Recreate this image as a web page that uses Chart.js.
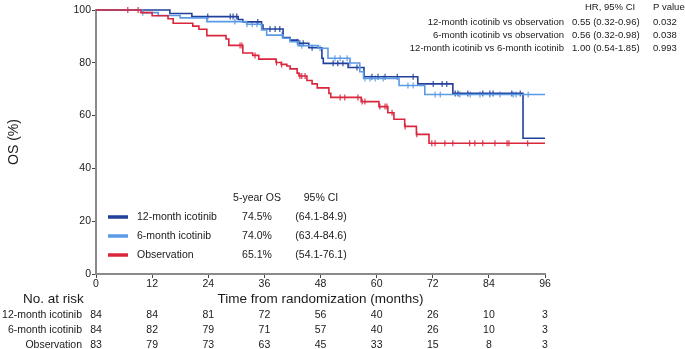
<!DOCTYPE html>
<html>
<head>
<meta charset="utf-8">
<script src="https://cdn.jsdelivr.net/npm/chart.js@4.4.1/dist/chart.umd.min.js"></script>
<style>
  html, body { margin: 0; padding: 0; background: #fff; }
  #wrap { width: 685px; height: 349px; }
</style>
</head>
<body>
<div id="wrap"><canvas id="os-chart" width="685" height="349"></canvas></div>
<script>
(function() {
    'use strict';

    // Kaplan-Meier steps (months, OS %)
    const obsTimes = [0, 9.6, 12.0, 15.4, 16.5, 20.7, 22.0, 23.7, 27.8, 28.4, 31.4, 33.5, 34.8, 38.5, 39.6, 40.8, 41.5, 43.0, 43.4, 45.1, 46.2, 47.3, 49.8, 50.2, 56.7, 60.5, 62.4, 63.7, 66.0, 68.5, 71.2, 96];
    const obsSurv = [100, 99.0, 97.8, 96.7, 95.0, 93.9, 92.7, 90.3, 89.0, 86.6, 83.7, 82.8, 81.4, 80.1, 79.4, 78.8, 77.7, 76.1, 75.0, 73.3, 72.0, 70.5, 68.4, 66.9, 65.3, 63.4, 61.1, 58.6, 55.9, 52.9, 49.5, 49.5];

    const m12Times = [0, 15.8, 20.5, 30.4, 31.4, 35.4, 35.7, 40.0, 41.5, 43.2, 45.5, 48.3, 48.6, 53.9, 57.3, 68.8, 76.3, 91.3, 96];
    const m12Surv = [100, 98.7, 97.5, 96.4, 95.5, 94.3, 92.8, 89.6, 88.6, 87.4, 85.7, 81.7, 79.8, 78.2, 74.7, 72.0, 68.4, 51.4, 51.4];

    const m6Times = [0, 10.0, 13.3, 18.0, 23.7, 32.2, 35.4, 36.5, 40.0, 41.5, 43.2, 47.5, 49.6, 54.3, 56.4, 57.2, 64.8, 70.3, 96];
    const m6Surv = [100, 99.0, 97.9, 97.0, 95.6, 94.6, 92.4, 90.5, 89.3, 88.0, 86.5, 85.5, 81.7, 79.9, 76.6, 74.1, 71.4, 68.0, 68.0];

    // censoring times (months)
    const obsCensor = [6.8, 9.0, 30.8, 31.2, 34.0, 38.6, 39.7, 43.6, 44.0, 44.7, 52.2, 53.2, 56.0, 56.9, 57.5, 60.7, 61.8, 62.2, 63.3, 66.1, 68.6, 71.8, 72.5, 74.6, 76.3, 79.9, 81.0, 82.7, 85.3, 87.9, 88.3, 92.3];
    const m12Censor = [23.9, 28.7, 29.3, 30.1, 34.6, 37.2, 38.3, 39.3, 43.6, 44.3, 46.2, 50.7, 51.7, 52.8, 55.8, 59.0, 60.3, 61.8, 64.4, 67.8, 72.1, 74.0, 75.0, 76.8, 77.4, 79.5, 82.7, 84.2, 84.9, 88.9, 90.7];
    const m6Censor = [10.0, 29.7, 32.3, 33.4, 34.4, 39.8, 43.0, 44.0, 47.9, 51.1, 52.2, 53.7, 54.3, 57.5, 58.6, 59.7, 61.4, 66.7, 67.8, 72.5, 73.6, 77.8, 80.0, 82.1, 84.2, 86.4, 89.2, 89.8, 92.4];

    const xTicks = [0, 12, 24, 36, 48, 60, 72, 84, 96];
    const groupNames = ['12-month icotinib', '6-month icotinib', 'Observation'];
    const fiveYearOS = ['74.5%', '74.0%', '65.1%'];
    const fiveYearCI = ['(64.1-84.9)', '(63.4-84.6)', '(54.1-76.1)'];
    const atRisk12 = [84, 84, 81, 72, 56, 40, 26, 10, 3];
    const atRisk6 = [84, 82, 79, 71, 57, 40, 26, 10, 3];
    const atRiskObs = [83, 79, 73, 63, 45, 33, 15, 8, 3];
    const hrRows = ['12-month icotinib vs observation', '6-month icotinib vs observation', '12-month icotinib vs 6-month icotinib'];
    const hrValues = ['0.55 (0.32-0.96)', '0.56 (0.32-0.98)', '1.00 (0.54-1.85)'];
    const pValues = ['0.032', '0.038', '0.993'];

    const DARK = '#22409a';
    const LIGHT = '#5c9ae6';
    const RED = '#d9263c';
    const FONT = '"Liberation Sans", Arial, sans-serif';
    const TXT = '#1a1a1a';

    function toPoints(times, surv) {
        return times.map((t, i) => ({ x: t, y: surv[i] }));
    }

    // value of the step curve at time t
    function survAt(times, surv, t) {
        let v = surv[0];
        for (let i = 0; i < times.length; i++) {
            if (times[i] <= t) v = surv[i];
        }
        return v;
    }

    function censorPoints(censor, times, surv) {
        return censor.map(t => ({ x: t, y: survAt(times, surv, t) }));
    }

    function curve(data, color) {
        return {
            type: 'line',
            data: data,
            borderColor: color,
            backgroundColor: color,
            borderWidth: 1.6,
            stepped: 'before',
            pointRadius: 0,
            fill: false,
            clip: false
        };
    }

    function marks(data, color) {
        return {
            type: 'scatter',
            data: data,
            borderColor: color,
            backgroundColor: color,
            pointStyle: 'line',
            rotation: 90,
            pointRadius: 3,
            borderWidth: 1.1,
            clip: false
        };
    }

    // texts around the plot: HR table, 5-year OS legend, numbers at risk
    const annotations = {
        id: 'annotations',
        afterDraw(chart) {
            const ctx = chart.ctx;
            const xs = chart.scales.x;
            ctx.save();
            ctx.fillStyle = TXT;
            ctx.textBaseline = 'middle';

            // HR table top right
            ctx.font = '9.5px ' + FONT;
            ctx.textAlign = 'left';
            ctx.fillText('HR, 95% CI', 585, 7);
            ctx.fillText('P value', 653, 7);
            hrRows.forEach((r, i) => {
                const y = 22 + i * 13.3;
                ctx.textAlign = 'right';
                ctx.fillText(r, 564, y);
                ctx.textAlign = 'left';
                ctx.fillText(hrValues[i], 572, y);
                ctx.fillText(pValues[i], 653, y);
            });

            // legend with 5-year OS
            ctx.font = '10.5px ' + FONT;
            ctx.textAlign = 'center';
            ctx.fillText('5-year OS', 257, 198);
            ctx.fillText('95% CI', 321, 198);
            const colors = [DARK, LIGHT, RED];
            groupNames.forEach((g, i) => {
                const y = 217 + i * 19;
                ctx.strokeStyle = colors[i];
                ctx.lineWidth = 3.5;
                ctx.beginPath();
                ctx.moveTo(108, y);
                ctx.lineTo(128, y);
                ctx.stroke();
                ctx.textAlign = 'left';
                ctx.fillText(g, 137, y);
                ctx.textAlign = 'center';
                ctx.fillText(fiveYearOS[i], 257, y);
                ctx.fillText(fiveYearCI[i], 321, y);
            });

            // numbers at risk
            ctx.font = '13.5px ' + FONT;
            ctx.textAlign = 'left';
            ctx.fillText('No. at risk', 23, 299);
            ctx.font = '10.5px ' + FONT;
            const rows = [atRisk12, atRisk6, atRiskObs];
            rows.forEach((row, i) => {
                const y = 315 + i * 15;
                ctx.textAlign = 'right';
                ctx.fillText(groupNames[i], 82, y);
                ctx.textAlign = 'center';
                row.forEach((n, j) => {
                    ctx.fillText(String(n), xs.getPixelForValue(xTicks[j]), y);
                });
            });
            ctx.restore();
        }
    };

    const axisGrid = {
        drawOnChartArea: false,
        drawTicks: true,
        tickLength: 4,
        tickColor: '#444',
        tickWidth: 1
    };
    const axisBorder = { display: true, color: '#8a8a8a', width: 2 };

    new Chart(document.getElementById('os-chart'), {
        type: 'line',
        data: {
            datasets: [
                curve(toPoints(obsTimes, obsSurv), RED),
                curve(toPoints(m6Times, m6Surv), LIGHT),
                curve(toPoints(m12Times, m12Surv), DARK),
                marks(censorPoints(obsCensor, obsTimes, obsSurv), RED),
                marks(censorPoints(m6Censor, m6Times, m6Surv), LIGHT),
                marks(censorPoints(m12Censor, m12Times, m12Surv), DARK)
            ]
        },
        options: {
            responsive: false,
            animation: false,
            layout: { padding: { top: 10, right: 140, left: 0, bottom: 0 } },
            plugins: {
                legend: { display: false },
                tooltip: { enabled: false }
            },
            scales: {
                x: {
                    type: 'linear',
                    min: 0,
                    max: 96,
                    afterFit: s => { s.height = 75; },
                    afterBuildTicks: s => { s.ticks = xTicks.map(v => ({ value: v })); },
                    ticks: { color: TXT, padding: 0, font: { family: FONT, size: 10.5 } },
                    grid: axisGrid,
                    border: axisBorder,
                    title: {
                        display: true,
                        text: 'Time from randomization (months)',
                        color: TXT,
                        font: { family: FONT, size: 13.5 },
                        padding: { top: 0, bottom: 42 }
                    }
                },
                y: {
                    min: 0,
                    max: 100,
                    afterFit: s => { s.width = 96; },
                    ticks: { stepSize: 20, color: TXT, padding: 1, font: { family: FONT, size: 10.5 } },
                    grid: axisGrid,
                    border: axisBorder,
                    title: {
                        display: true,
                        text: 'OS (%)',
                        color: TXT,
                        font: { family: FONT, size: 14 },
                        padding: { top: 6, bottom: 0 }
                    }
                }
            }
        },
        plugins: [annotations]
    });
})();
</script>
</body>
</html>
